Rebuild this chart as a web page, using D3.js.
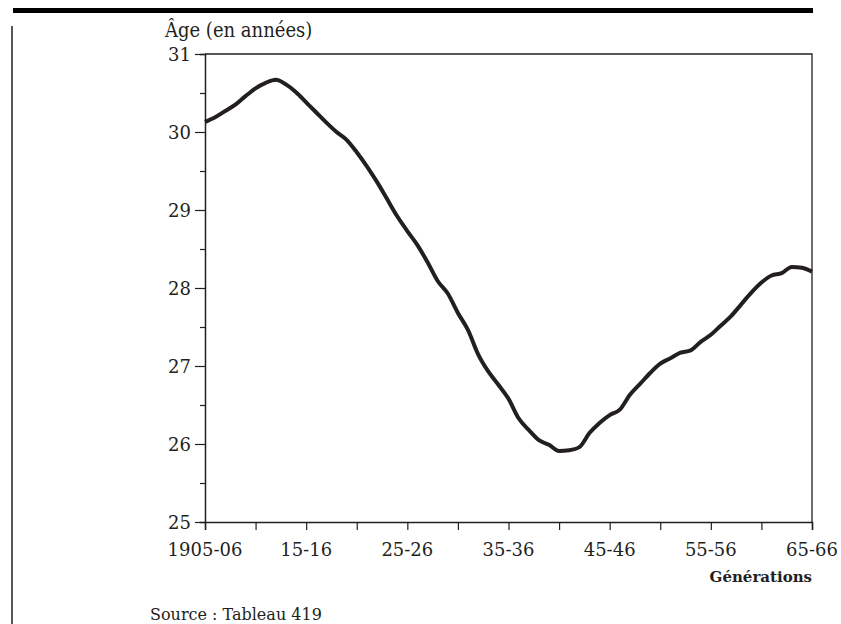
<!DOCTYPE html>
<html><head><meta charset="utf-8">
<script src="https://cdn.jsdelivr.net/npm/d3@7"></script>
<style>body{margin:0;background:#fff}svg{display:block}</style>
</head><body>
<script>
const years = d3.range(1905, 1966);
const ages = [30.13,30.19,30.27,30.35,30.46,30.56,30.63,30.67,30.61,30.51,
  30.38,30.25,30.12,30.00,29.90,29.74,29.56,29.36,29.14,28.92,
  28.73,28.55,28.33,28.09,27.93,27.68,27.46,27.15,26.93,26.76,
  26.58,26.33,26.18,26.05,25.99,25.91,25.92,25.96,26.14,26.27,
  26.37,26.44,26.63,26.77,26.91,27.03,27.10,27.17,27.20,27.31,
  27.40,27.52,27.64,27.79,27.94,28.07,28.16,28.19,28.27,28.26,28.21];
const xTickLabels = ["1905-06","15-16","25-26","35-36","45-46","55-56","65-66"];
const yTicks = [25,26,27,28,29,30,31];

const W=841,H=624;
const svg=d3.select("body").append("svg").attr("width",W).attr("height",H);
const L=205,R=812,T=54,B=522;
const x=d3.scaleLinear().domain([1905,1965]).range([L,R]);
const y=d3.scaleLinear().domain([25,31]).range([B,T]);
const ink="#231f20";
const font="'DejaVu Serif', serif";

svg.append("rect").attr("x",13).attr("y",8).attr("width",800).attr("height",5).attr("fill","#000");
svg.append("line").attr("x1",12).attr("x2",12).attr("y1",26).attr("y2",H).attr("stroke",ink).attr("stroke-width",1.5);

// frame
svg.append("path").attr("d",`M${L},${T}H${R}V${B}`).attr("fill","none").attr("stroke",ink).attr("stroke-width",1.3);

// y axis
const ya=svg.append("g").attr("transform",`translate(${L},0)`)
  .call(d3.axisLeft(y).tickValues(d3.range(25,31.01,0.5)).tickSize(5).tickFormat(""));
ya.select(".domain").attr("stroke",ink).attr("stroke-width",1.5);
ya.selectAll(".tick line").attr("stroke",ink).attr("stroke-width",1.2)
  .attr("x2",d=>Number.isInteger(d)?-10:-5);
svg.append("g").selectAll("text").data(yTicks).join("text")
  .attr("x",L-14).attr("y",d=>y(d)).attr("dy","0.38em").attr("text-anchor","end")
  .attr("font-family",font).attr("font-size",18).attr("fill",ink).text(d=>d);

// x axis
const xa=svg.append("g").attr("transform",`translate(0,${B})`)
  .call(d3.axisBottom(x).tickValues(d3.range(1905,1966,5)).tickSize(8).tickFormat(""));
xa.select(".domain").attr("stroke",ink).attr("stroke-width",1.5);
xa.selectAll(".tick line").attr("stroke",ink).attr("stroke-width",1.2);
svg.append("g").selectAll("text").data(xTickLabels).join("text")
  .attr("x",(d,i)=>x(1905+10*i)).attr("y",556).attr("text-anchor","middle")
  .attr("font-family",font).attr("font-size",18).attr("fill",ink).text(d=>d);

// line
svg.append("path").datum(years.map((yr,i)=>[yr,ages[i]]))
  .attr("d",d3.line().x(d=>x(d[0])).y(d=>y(d[1])).curve(d3.curveMonotoneX))
  .attr("fill","none").attr("stroke",ink).attr("stroke-width",4).attr("stroke-linejoin","round");

svg.append("text").attr("x",165).attr("y",37).attr("font-family",font).attr("font-stretch","condensed")
  .attr("font-size",20).attr("fill",ink).text("Âge (en années)");
svg.append("text").attr("x",R).attr("y",582).attr("text-anchor","end").attr("font-family",font)
  .attr("font-weight","bold").attr("font-size",15).attr("fill",ink).text("Générations");
svg.append("text").attr("x",150).attr("y",620).attr("font-family",font)
  .attr("font-size",16).attr("fill",ink).text("Source :  Tableau 419");
</script>
</body></html>
